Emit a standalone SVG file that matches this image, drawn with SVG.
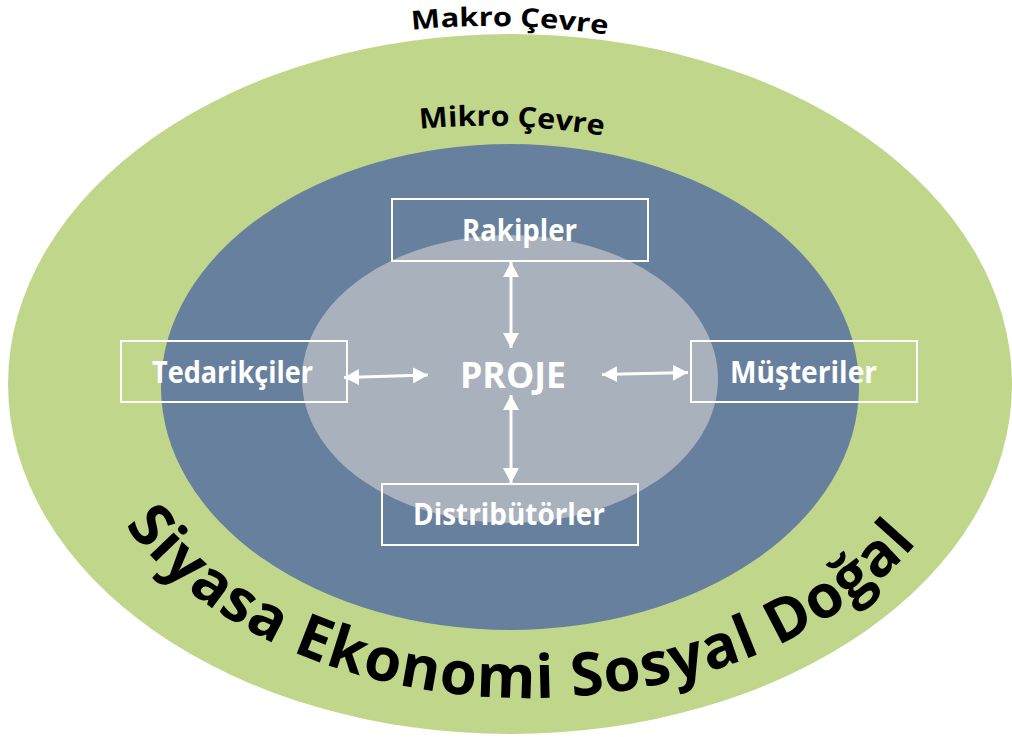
<svg xmlns="http://www.w3.org/2000/svg" width="1012" height="737" viewBox="0 0 1012 737">
  <style>
    .box { fill: none; stroke: #ffffff; stroke-width: 2; }
    .lbl { font-family: "Open Sans", "Liberation Sans", sans-serif; font-weight: bold; fill: #ffffff; }
    .ring { font-family: "Open Sans", "Liberation Sans", sans-serif; font-weight: bold; fill: #000000; }
    .conn { stroke: #ffffff; stroke-width: 3; fill: none; marker-start: url(#head); marker-end: url(#head); }
  </style>
  <defs>
    <marker id="head" markerUnits="userSpaceOnUse" markerWidth="16" markerHeight="16" refX="15" refY="8" orient="auto-start-reverse">
      <path d="M0,0 L15,8 L0,16 Z" fill="#ffffff"/>
    </marker>
    <path id="arcMakro" d="M412,30 Q505,20 610,35"/>
    <path id="arcMikro" d="M420,129 Q505,120 605,136"/>
    <path id="arcBottom" d="M125.1,525.4 A453,318 0 0 0 921.1,538"/>
  </defs>

  <!-- environment layers -->
  <g id="makro-cevre">
    <ellipse cx="510" cy="384" rx="502" ry="350" fill="#C0D78B"/>
    <text class="ring" font-size="26"><textPath href="#arcMakro" textLength="196" lengthAdjust="spacingAndGlyphs">Makro Çevre</textPath></text>
    <text class="ring" font-size="60"><textPath href="#arcBottom" textLength="885" lengthAdjust="spacing">Siyasa Ekonomi Sosyal Doğal</textPath></text>
  </g>
  <g id="mikro-cevre">
    <ellipse cx="510" cy="387" rx="349" ry="243" fill="#67809E"/>
    <text class="ring" font-size="28"><textPath href="#arcMikro" textLength="184" lengthAdjust="spacingAndGlyphs">Mikro Çevre</textPath></text>
  </g>
  <g id="proje">
    <ellipse cx="510" cy="379" rx="208" ry="144" fill="#A8B1BC"/>
    <text class="lbl" x="460" y="388" font-size="36" textLength="106" lengthAdjust="spacingAndGlyphs">PROJE</text>
  </g>

  <!-- stakeholder boxes -->
  <g id="rakipler">
    <rect class="box" x="392" y="199" width="256" height="62"/>
    <text class="lbl" x="462" y="241" font-size="30" textLength="115" lengthAdjust="spacingAndGlyphs">Rakipler</text>
  </g>
  <g id="tedarikciler">
    <rect class="box" x="121" y="341" width="226" height="61"/>
    <text class="lbl" x="152" y="383" font-size="30" textLength="161" lengthAdjust="spacingAndGlyphs">Tedarikçiler</text>
  </g>
  <g id="musteriler">
    <rect class="box" x="691" y="341" width="226" height="61"/>
    <text class="lbl" x="730" y="383" font-size="30" textLength="147" lengthAdjust="spacingAndGlyphs">Müşteriler</text>
  </g>
  <g id="distributorler">
    <rect class="box" x="382" y="484" width="256" height="61"/>
    <text class="lbl" x="413" y="525" font-size="30" textLength="192" lengthAdjust="spacingAndGlyphs">Distribütörler</text>
  </g>

  <!-- two-way links -->
  <g id="connectors">
    <line class="conn" x1="511" y1="262" x2="511" y2="348"/>
    <line class="conn" x1="511" y1="395" x2="511" y2="483"/>
    <line class="conn" x1="344" y1="377.5" x2="428" y2="375"/>
    <line class="conn" x1="602" y1="374.5" x2="688" y2="372.5"/>
  </g>
</svg>
